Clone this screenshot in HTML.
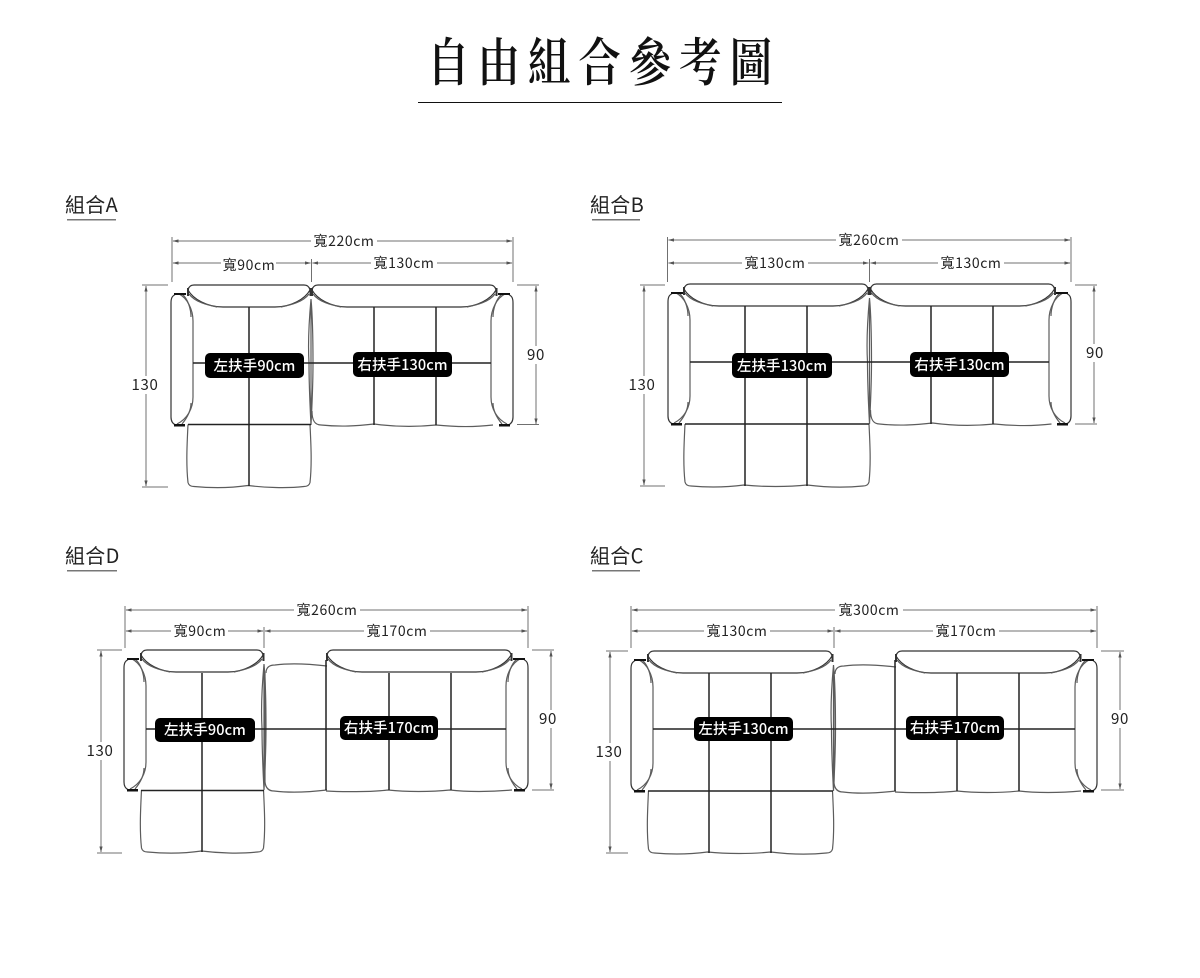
<!DOCTYPE html>
<html lang="zh-Hant">
<head>
<meta charset="utf-8">
<title>自由組合參考圖</title>
<style>
html,body{margin:0;padding:0;background:#fff;width:1200px;height:978px;overflow:hidden}
svg{display:block}
text{font-family:"Liberation Sans","Noto Sans CJK TC",sans-serif;fill:#222}
.t{font-family:"Noto Sans CJK TC",sans-serif;font-size:14px;letter-spacing:.6px;text-anchor:middle;fill:#222}
.n{font-family:"Noto Sans CJK TC",sans-serif;font-size:15px;letter-spacing:.7px;text-anchor:middle;fill:#222}
.h{font-family:"Noto Sans CJK TC",sans-serif;font-size:20px;letter-spacing:.3px;fill:#222}
.b{font-family:"Noto Sans CJK TC",sans-serif;font-size:14.500px;font-weight:500;letter-spacing:.1px;text-anchor:middle;fill:#fff}
.title{font-family:"Noto Serif CJK TC","Noto Serif CJK SC",serif;font-size:52px;font-weight:600;fill:#111}
.d{stroke:#707070;stroke-width:1;fill:none}
.o{stroke:#5c5c5c;stroke-width:1.200;fill:none}
.i{stroke:#222;stroke-width:1.500;fill:none}
</style>
</head>
<body>
<svg width="1200" height="978" viewBox="0 0 1200 978" xmlns="http://www.w3.org/2000/svg">
<defs>
<marker id="a" viewBox="0 0 6 4" refX="5.500" refY="2" markerWidth="6" markerHeight="4" orient="auto-start-reverse" markerUnits="userSpaceOnUse"><path d="M6 2L0 .4V3.600Z" fill="#555"/></marker>
<g id="armL">
<path class="o" style="stroke:#333" d="M5 9C1 11 0 13 0 18V132C0 137 2 139 5 140"/>
<path class="o" d="M8 9C16 13 22 24 22 36V112C22 124 16 134 6 139"/>
<path class="o" d="M11 9C17 14 20 24 20 32M20 118C20 126 16 133 11 139"/>
<path d="M3 8H15V10H3ZM3 139H14V141.500H3Z" fill="#111"/>
</g>
<g id="back124">
<path class="o" style="stroke:#333" d="M1 5Q2 0 7 0H117Q122 0 123 5C118 14 104 22 88 22H36C20 22 6 14 1 5Z"/>
<path class="o" d="M2 9C8 17 20 20 30 22M122 9C116 17 104 20 94 22"/>
<path d="M0 3H2V11H0ZM122.500 3H124.500V11H122.500Z" fill="#333"/>
</g>
<g id="back186">
<path class="o" style="stroke:#333" d="M1 5Q2 0 7 0H179Q184 0 185 5C180 14 166 22 150 22H36C20 22 6 14 1 5Z"/>
<path class="o" d="M2 9C8 17 20 20 30 22M184 9C178 17 166 20 156 22"/>
<path d="M0 3H2V11H0ZM184.500 3H186.500V11H184.500Z" fill="#333"/>
</g>
<path id="ch124" class="o" d="M2 0C1 20 0 40 2 58Q3 62 8 62C30 64 48 63 62 61C78 63 100 64 118 62Q123 62 124 58C126 40 125 20 124 0"/>
<path id="ch186" class="o" d="M2 0C1 20 0 40 2 58Q3 62 8 62C30 64 46 63 61 61C80 63 105 63 124 61C140 63 160 64 180 62Q185 62 186 58C188 40 187 20 186 0"/>
<path id="joint" class="o" d="M0 8V134M0 8C-2 30 -3 55 -2 72C-2 90 -1 115 0 134M0 8C2 30 2 55 2 72C2 90 1 115 0 134"/>
<path id="mod" class="o" d="M1 8Q1 0 10 0C25 -2 45 -1 62 1M0 8V117Q1 126 9 126C25 128 45 127 62 125"/>
<path id="botR" class="o" d="M1 0C1 10 4 14 10 14C30 16 45 15 63 13C85 16 105 16 125 14C145 16 165 16 182 14"/>
<path id="bot186" class="o" d="M0 15C15 16 45 16 62 14C80 16 105 16 124 14C140 16 165 16 186 14"/>
</defs>

<!-- title -->
<text class="title" transform="translate(427,81) scale(.82,1)"><tspan x="0">自</tspan><tspan x="61.500">由</tspan><tspan x="123">組</tspan><tspan x="184.500">合</tspan><tspan x="246">參</tspan><tspan x="307.500">考</tspan><tspan x="369">圖</tspan></text>
<rect x="418" y="102" width="364" height="1" fill="#111"/>

<!-- section heads -->
<text class="h" x="65" y="212">組合A</text><rect x="67" y="219" width="49" height="1.500" fill="#777"/>
<text class="h" x="590" y="212">組合B</text><rect x="592" y="219" width="48" height="1.500" fill="#777"/>
<text class="h" x="65" y="563">組合D</text><rect x="67" y="570" width="50" height="1.500" fill="#777"/>
<text class="h" x="590" y="563">組合C</text><rect x="592" y="570" width="48" height="1.500" fill="#777"/>

<!-- ===== A ===== -->
<g class="d">
<path d="M172 237V282M513 237V282M311.500 259V282M142 285H168M142 487H168M517 285H539M517 424.500H539"/>
<path d="M173 241H512" marker-start="url(#a)" marker-end="url(#a)"/>
<path d="M173 263H310.500" marker-start="url(#a)" marker-end="url(#a)"/>
<path d="M312.500 263H512" marker-start="url(#a)" marker-end="url(#a)"/>
<path d="M146 286V486" marker-start="url(#a)" marker-end="url(#a)"/>
<path d="M536 286V424" marker-start="url(#a)" marker-end="url(#a)"/>
</g>
<use href="#armL" x="171" y="285"/>
<use href="#armL" transform="translate(513,285) scale(-1,1)"/>
<use href="#back124" x="187" y="285"/>
<use href="#back186" x="311" y="285"/>
<use href="#joint" x="311" y="291"/>
<use href="#ch124" x="186" y="424.500"/>
<use href="#botR" x="311" y="411"/>
<path class="i" d="M249 307V486M374 307V425M436 307V425M193 363H491M188 424.500H311"/>

<!-- ===== B ===== -->
<g class="d">
<path d="M667.500 237V282M1071 237V282M869.500 259V282M640 285H665M640 486H665M1075 285H1097M1075 424H1097"/>
<path d="M668.500 240H1070" marker-start="url(#a)" marker-end="url(#a)"/>
<path d="M668.500 263H868.500" marker-start="url(#a)" marker-end="url(#a)"/>
<path d="M870.500 263H1070" marker-start="url(#a)" marker-end="url(#a)"/>
<path d="M644 286V485" marker-start="url(#a)" marker-end="url(#a)"/>
<path d="M1094 286V423" marker-start="url(#a)" marker-end="url(#a)"/>
</g>
<use href="#armL" x="668" y="284"/>
<use href="#armL" transform="translate(1071,284) scale(-1,1)"/>
<use href="#back186" x="683" y="284"/>
<use href="#back186" x="869.500" y="284"/>
<use href="#joint" x="869.500" y="290"/>
<use href="#ch186" x="683" y="424"/>
<use href="#botR" x="869.500" y="410"/>
<path class="i" d="M745 306V486M807 306V486M931 306V424M993 306V424M690 362H1049M685 424H869"/>

<!-- ===== D ===== -->
<g class="d">
<path d="M125 606V648M528 606V648M264 627V648M97 650H122M97 853H122M532 650H554M532 790H554"/>
<path d="M126 610H527" marker-start="url(#a)" marker-end="url(#a)"/>
<path d="M126 631H263" marker-start="url(#a)" marker-end="url(#a)"/>
<path d="M265 631H527" marker-start="url(#a)" marker-end="url(#a)"/>
<path d="M101 651V852" marker-start="url(#a)" marker-end="url(#a)"/>
<path d="M551 651V789" marker-start="url(#a)" marker-end="url(#a)"/>
</g>
<use href="#armL" x="124" y="650"/>
<use href="#armL" transform="translate(528,650) scale(-1,1)"/>
<use href="#back124" x="140" y="650"/>
<use href="#back186" x="326" y="650"/>
<use href="#joint" x="264" y="656"/>
<use href="#mod" x="265" y="665"/>
<use href="#ch124" x="139.500" y="790"/>
<use href="#bot186" x="326" y="776"/>
<path class="i" d="M202 673V852M326 660V790M389 673V790M451 673V790M146 729H506M141 790.500H264"/>

<!-- ===== C ===== -->
<g class="d">
<path d="M631 606V648M1097 606V648M834 627V648M606 651H628M606 853H628M1101 651H1124M1101 790H1124"/>
<path d="M632 610H1096" marker-start="url(#a)" marker-end="url(#a)"/>
<path d="M632 631H833" marker-start="url(#a)" marker-end="url(#a)"/>
<path d="M835 631H1096" marker-start="url(#a)" marker-end="url(#a)"/>
<path d="M610 652V852" marker-start="url(#a)" marker-end="url(#a)"/>
<path d="M1120 652V789" marker-start="url(#a)" marker-end="url(#a)"/>
</g>
<use href="#armL" x="631" y="651"/>
<use href="#armL" transform="translate(1097,651) scale(-1,1)"/>
<use href="#back186" x="647" y="651"/>
<use href="#back186" x="895" y="651"/>
<use href="#joint" x="833.500" y="657"/>
<use href="#mod" x="834" y="666"/>
<use href="#ch186" x="646.500" y="791"/>
<use href="#bot186" x="895" y="777"/>
<path class="i" d="M709 673V853M771 673V853M895 660V791M957 673V791M1019 673V791M653 729H1075M648 791H833"/>

<!-- dimension labels -->
<g fill="#fff">
<rect x="311" y="232" width="66" height="18"/><rect x="221" y="256" width="55" height="18"/><rect x="371" y="254" width="66" height="18"/>
<rect x="836" y="231" width="66" height="18"/><rect x="742" y="254" width="66" height="18"/><rect x="938" y="254" width="66" height="18"/>
<rect x="294" y="601" width="66" height="18"/><rect x="171" y="622" width="57" height="18"/><rect x="364" y="622" width="66" height="18"/>
<rect x="835" y="601" width="68" height="18"/><rect x="704" y="622" width="66" height="18"/><rect x="933" y="622" width="66" height="18"/>
<rect x="130" y="376" width="30" height="18"/><rect x="525" y="346" width="22" height="18"/>
<rect x="627" y="376" width="30" height="18"/><rect x="1084" y="344" width="22" height="18"/>
<rect x="85" y="742" width="30" height="18"/><rect x="537" y="710" width="22" height="18"/>
<rect x="594" y="743" width="30" height="18"/><rect x="1109" y="710" width="22" height="18"/>
</g>
<text class="t" x="344" y="246">寬220cm</text>
<text class="t" x="249" y="270">寬90cm</text>
<text class="t" x="404" y="268">寬130cm</text>
<text class="t" x="869" y="245">寬260cm</text>
<text class="t" x="775" y="268">寬130cm</text>
<text class="t" x="971" y="268">寬130cm</text>
<text class="t" x="327" y="615">寬260cm</text>
<text class="t" x="200" y="636">寬90cm</text>
<text class="t" x="397" y="636">寬170cm</text>
<text class="t" x="869" y="615">寬300cm</text>
<text class="t" x="737" y="636">寬130cm</text>
<text class="t" x="966" y="636">寬170cm</text>
<text class="n" x="145" y="390">130</text><text class="n" x="536" y="360">90</text>
<text class="n" x="642" y="390">130</text><text class="n" x="1095" y="358">90</text>
<text class="n" x="100" y="756">130</text><text class="n" x="548" y="724">90</text>
<text class="n" x="609" y="757">130</text><text class="n" x="1120" y="724">90</text>

<!-- black badges -->
<g fill="#000">
<rect x="205" y="353" width="99" height="25" rx="5"/><rect x="353" y="352" width="99" height="25" rx="5"/>
<rect x="732" y="353" width="100" height="25" rx="5"/><rect x="910" y="352" width="99" height="25" rx="5"/>
<rect x="155" y="718" width="100" height="24" rx="5"/><rect x="340" y="716" width="98" height="24" rx="5"/>
<rect x="694" y="717" width="99" height="24" rx="5"/><rect x="906" y="716" width="98" height="24" rx="5"/>
</g>
<text class="b" x="254.500" y="371">左扶手90cm</text>
<text class="b" x="402.500" y="370">右扶手130cm</text>
<text class="b" x="782" y="371">左扶手130cm</text>
<text class="b" x="959.500" y="370">右扶手130cm</text>
<text class="b" x="205" y="735">左扶手90cm</text>
<text class="b" x="389" y="733">右扶手170cm</text>
<text class="b" x="743.500" y="734">左扶手130cm</text>
<text class="b" x="955" y="733">右扶手170cm</text>
</svg>
</body>
</html>
